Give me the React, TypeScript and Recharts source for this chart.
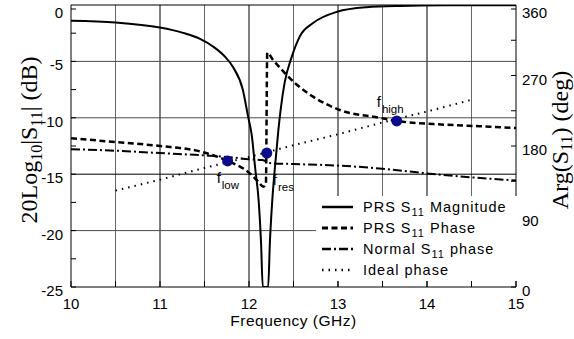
import { ComposedChart, Line, Scatter, XAxis, YAxis, ReferenceLine, Legend } from 'recharts'

const freqTicks = [10, 10.5, 11, 11.5, 12, 12.5, 13, 13.5, 14, 14.5, 15]
const dbTicks = [-25, -22.5, -20, -17.5, -15, -12.5, -10, -7.5, -5, -2.5, 0]
const degTicks = [0, 45, 90, 135, 180, 225, 270, 315, 360]
const vGrid = [10.5, 11, 11.5, 12, 12.5, 13, 13.5, 14, 14.5]
const hGrid = [-5, -10, -15, -20]

// PRS S11 magnitude (dB)
const magFreq = [10, 10.5, 11, 11.25, 11.45, 11.6, 11.72, 11.82, 11.93, 11.99, 12.03, 12.07, 12.11, 12.135, 12.155, 12.215, 12.235, 12.26, 12.29, 12.33, 12.36, 12.4, 12.48, 12.57, 12.72, 12.99, 13.32, 13.7, 14.2, 15]
const magDb = [-1.4, -1.55, -2.0, -2.45, -3.0, -3.7, -4.5, -5.5, -7.5, -9.9, -11.5, -14.5, -17.5, -21, -25, -25, -21, -17.5, -14.5, -11.1, -9.0, -6.9, -4.6, -2.8, -1.6, -0.6, -0.2, -0.08, -0.03, -0.02]

// PRS S11 phase (deg)
const prsFreq = [10, 10.5, 11, 11.45, 11.76, 12.0, 12.1, 12.16, 12.19, 12.205, 12.27, 12.52, 12.72, 13.02, 13.47, 13.66, 14.07, 14.45, 15]
const prsDeg = [190, 185, 180, 173, 161, 146, 135, 128, 132, 299, 290, 260, 243, 226, 216, 212, 208, 206, 203]

// normal S11 phase (deg)
const normFreq = [10, 10.5, 11, 11.5, 11.76, 12.0, 12.15, 12.25, 12.5, 13, 13.5, 14, 14.5, 15]
const normDeg = [176, 174, 171, 168, 166, 163, 162, 158, 157, 155, 151, 145, 140, 136]

// ideal phase (deg)
const idealFreq = [10.5, 11, 11.5, 12, 12.5, 13, 13.5, 14, 14.5]
const idealDeg = [123, 137, 152, 166, 181, 195, 210, 224, 239]

// marked frequencies
const markFreq = [11.76, 12.2, 13.66]
const markDeg = [161, 171, 212]
const markName = ['low', 'res', 'high']

const legendNames = [
  ['PRS S', '11', ' Magnitude'],
  ['PRS S', '11', ' Phase'],
  ['Normal S', '11', ' phase'],
  ['Ideal phase', '', ''],
]

const magData = magFreq.map((f, i) => ({ f, db: magDb[i] }))
const prsData = prsFreq.map((f, i) => ({ f, deg: prsDeg[i] }))
const normData = normFreq.map((f, i) => ({ f, deg: normDeg[i] }))
const idealData = idealFreq.map((f, i) => ({ f, deg: idealDeg[i] }))
const markData = markFreq.map((f, i) => ({ f, deg: markDeg[i], name: markName[i] }))

const SANS = "'Liberation Sans', Arial, sans-serif"
const SERIF = "'Liberation Serif', 'Times New Roman', serif"
const dashes = ['', '6 3.5', '9 3 2 3', '1.5 5']
const widths = [2, 2.5, 2, 2]

const BottomTick = (p: any) => {
  const { x, y, payload } = p
  const major = Number.isInteger(payload.value)
  return (
    <g>
      <line x1={x} x2={x} y1={y} y2={y - 6} stroke="#000" />
      {major && <text x={x} y={y + 22} textAnchor="middle" fontSize={15} fontFamily={SANS}>{payload.value}</text>}
    </g>
  )
}

const LeftTick = (p: any) => {
  const { x, y, payload } = p
  const ax = x + 8
  const major = payload.value % 5 === 0
  return (
    <g>
      <line x1={ax} x2={ax + 5} y1={y} y2={y} stroke="#000" />
      {major && <text x={x} y={y + 9} textAnchor="end" fontSize={15} fontFamily={SANS}>{payload.value}</text>}
    </g>
  )
}

const RightTick = (p: any) => {
  const { x, y, payload } = p
  const ax = x - 6
  const major = payload.value % 90 === 0
  return (
    <g>
      <line x1={ax} x2={ax - 5} y1={y} y2={y} stroke="#000" />
      {major && <text x={x} y={y + 9} textAnchor="start" fontSize={15} fontFamily={SANS}>{payload.value}</text>}
    </g>
  )
}

const LeftTitle = (p: any) => {
  const vb = p.viewBox || { x: 0, y: 5, width: 71, height: 282 }
  const cx = vb.x + 37
  const cy = vb.y + vb.height / 2 - 6
  return (
    <text x={cx} y={cy} transform={`rotate(-90, ${cx}, ${cy})`} textAnchor="middle" fontSize={24} fontFamily={SERIF}>
      20Log<tspan fontSize={16} dy={5}>10</tspan><tspan dy={-5}>|S</tspan><tspan fontSize={16} dy={5}>11</tspan><tspan dy={-5}>| (dB)</tspan>
    </text>
  )
}

const RightTitle = (p: any) => {
  const vb = p.viewBox || { x: 516, y: 5, width: 58, height: 282 }
  const cx = vb.x + 52
  const cy = vb.y + vb.height / 2 - 6
  return (
    <text x={cx} y={cy} transform={`rotate(-90, ${cx}, ${cy})`} textAnchor="middle" fontSize={24} fontFamily={SERIF}>
      Arg(S<tspan fontSize={16} dy={4}>11</tspan><tspan dy={-4}>) (deg)</tspan>
    </text>
  )
}

const MarkShape = (p: any) => {
  const { cx, cy, payload } = p
  const name = payload.name
  const off = name === 'low' ? [-11, 22] : name === 'res' ? [6, 32] : [-20, -14]
  return (
    <g>
      <circle cx={cx} cy={cy} r={5.5} fill="#0b0b8c" />
      <text x={cx + off[0]} y={cy + off[1]} fontSize={15} fontFamily={SANS}>
        f<tspan fontSize={11.5} dx={1} dy={6}>{name}</tspan>
      </text>
    </g>
  )
}

const LegendBox = () => (
  <svg width={202} height={85} style={{ display: 'block' }}>
    {legendNames.map((n, i) => {
      const y = 11 + i * 21
      return (
        <g key={i}>
          <line x1={6} x2={37} y1={y} y2={y} stroke="#000" strokeWidth={widths[i] + 0.5} strokeDasharray={dashes[i] || undefined} />
          <text x={47} y={y + 5} fontSize={14.5} letterSpacing={1} fontFamily={SANS}>
            {n[0]}
            {n[1] && <tspan fontSize={11} dy={4}>{n[1]}</tspan>}
            {n[2] && <tspan dy={-4}>{n[2]}</tspan>}
          </text>
        </g>
      )
    })}
  </svg>
)

export default function App() {
  return (
    <div style={{ position: 'absolute', left: 0, top: 0, background: '#fff' }}>
      <ComposedChart width={574} height={339} margin={{ top: 5, right: 0, bottom: 0, left: 0 }}>
        <XAxis dataKey="f" type="number" domain={[10, 15]} ticks={freqTicks} allowDataOverflow
          height={52} tickSize={0} tickMargin={0} tick={BottomTick} axisLine={{ stroke: '#000' }}
          label={{ value: 'Frequency (GHz)', position: 'insideBottom', offset: 13, fontSize: 15.5, fontFamily: SANS, fill: '#000', letterSpacing: 0.5 }} />
        <YAxis yAxisId="left" type="number" domain={[-25, 0]} ticks={dbTicks} allowDataOverflow width={71}
          tickSize={0} tickMargin={8} tick={LeftTick} axisLine={{ stroke: '#000' }} label={<LeftTitle />} />
        <YAxis yAxisId="right" orientation="right" type="number" domain={[0, 360]} ticks={degTicks} allowDataOverflow width={58}
          tickSize={0} tickMargin={6} tick={RightTick} axisLine={{ stroke: '#000' }} label={<RightTitle />} />
        {vGrid.map(v => (
          <ReferenceLine key={'v' + v} x={v} yAxisId="left" stroke={Number.isInteger(v) ? '#000' : '#666'} />
        ))}
        {hGrid.map(v => (
          <ReferenceLine key={'h' + v} y={v} yAxisId="left" stroke={v === -15 ? '#000' : '#4a4a4a'} />
        ))}
        <ReferenceLine y={0} yAxisId="left" stroke="#000" />
        <Line data={magData} dataKey="db" yAxisId="left" type="monotone" stroke="#000" strokeWidth={widths[0]} dot={false} isAnimationActive={false} />
        <Line data={prsData} dataKey="deg" yAxisId="right" type="monotone" stroke="#000" strokeWidth={widths[1]} strokeDasharray={dashes[1]} dot={false} isAnimationActive={false} />
        <Line data={normData} dataKey="deg" yAxisId="right" type="monotone" stroke="#000" strokeWidth={widths[2]} strokeDasharray={dashes[2]} dot={false} isAnimationActive={false} />
        <Line data={idealData} dataKey="deg" yAxisId="right" type="linear" stroke="#000" strokeWidth={widths[3]} strokeDasharray={dashes[3]} dot={false} isAnimationActive={false} />
        <Scatter data={markData} dataKey="deg" yAxisId="right" shape={MarkShape} isAnimationActive={false} />
        <Legend layout="vertical" align="center" verticalAlign="middle" content={<LegendBox />}
          wrapperStyle={{ left: 316, top: 196, width: 202, height: 85, background: '#fff' }} />
      </ComposedChart>
    </div>
  )
}
